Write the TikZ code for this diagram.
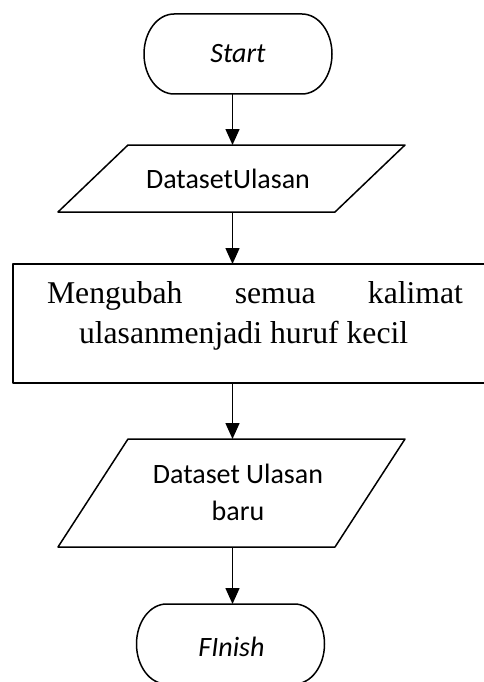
\documentclass[tikz,border=0pt]{standalone}
\usepackage{fontspec}
\setmainfont{Liberation Serif}
\newfontfamily\calfont{Carlito}
\usetikzlibrary{arrows.meta,calc}

\tikzset{
  flow/.style={line width=1.5pt, line join=round},
  term/.style={rectangle, inner sep=0pt, outer sep=0pt,
               minimum width=188pt, minimum height=80pt},
  iobox/.style={rectangle, inner sep=0pt, outer sep=0pt, minimum height=#1, minimum width=347pt},
  procbox/.style={flow, draw, rectangle, inner sep=0pt, outer sep=0pt,
                  minimum width=477pt, minimum height=119pt},
  lbl/.style={inner sep=0pt, outer sep=0pt, anchor=base},
  sanslbl/.style={lbl, font=\calfont\fontsize{28}{34}\selectfont},
  seriflbl/.style={inner sep=0pt, outer sep=0pt, anchor=base west, font=\fontsize{31.7}{40}\selectfont},
  conn/.style={flow, -{Triangle[length=16pt,width=14pt]}},
}

% outline of a terminal node: straight top and bottom, elliptic ends
\newcommand\terminaloutline[1]{%
  \draw[flow] ([xshift=30pt]#1.north west) -- ([xshift=-30pt]#1.north east)
    arc[start angle=-90, end angle=90, x radius=30, y radius=40]
    -- ([xshift=30pt]#1.south west)
    arc[start angle=90, end angle=270, x radius=30, y radius=40] -- cycle;}

\begin{document}
\begin{tikzpicture}[x=1pt, y=-1pt]
  \useasboundingbox (0,0) rectangle (484,682);
  \fill[white] (0,0) rectangle (484,682);

  % vertical axis the connectors run along
  \coordinate (spine) at (232.5,0);

  % terminal: start
  \node[term] (start) at (238,54) {};
  \terminaloutline{start}
  \node[sanslbl] (starttxt) at (238,63) {\itshape Start};

  % input: dataset
  \node[iobox=67pt] (in1) at (231.5,178.5) {};
  \draw[flow] ([xshift=70pt]in1.north west) -- (in1.north east)
              -- ([xshift=-70pt]in1.south east) -- (in1.south west) -- cycle;
  \node[sanslbl] (in1txt) at (228,188) {DatasetUlasan};

  % process: lower-casing
  \node[procbox] (proc) at (251.5,323.5) {};
  \node[seriflbl] (proctxta) at (47,303) {\makebox[416pt]{Mengubah\hfill semua\hfill kalimat}};
  \node[seriflbl] (proctxtb) at (79,343) {ulasanmenjadi huruf kecil};

  % output: new dataset
  \node[iobox=108pt] (in2) at (231.5,493) {};
  \draw[flow] ([xshift=70pt]in2.north west) -- (in2.north east)
              -- ([xshift=-70pt]in2.south east) -- (in2.south west) -- cycle;
  \node[sanslbl] (in2txta) at (238,483) {Dataset Ulasan};
  \node[sanslbl] (in2txtb) at (238,520) {baru};

  % terminal: finish
  \node[term] (finish) at (230.5,644) {};
  \terminaloutline{finish}
  \node[sanslbl] (finishtxt) at (231.5,656) {\itshape FInish};

  % connectors
  \draw[conn] (start.south -| spine) -- (in1.north -| spine);
  \draw[conn] (in1.south -| spine) -- (proc.north -| spine);
  \draw[conn] (proc.south -| spine) -- (in2.north -| spine);
  \draw[conn] (in2.south -| spine) -- (finish.north -| spine);
\end{tikzpicture}
\end{document}
